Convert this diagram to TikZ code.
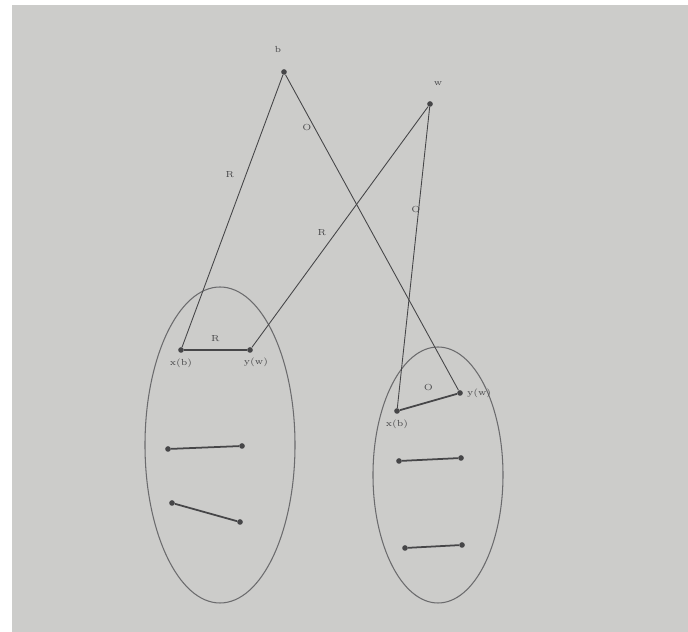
\documentclass[tikz,border=0pt]{standalone}
\usepackage{tikz}
\usetikzlibrary{positioning, calc, backgrounds}
\definecolor{paper}{RGB}{204,204,202}
\definecolor{ink}{RGB}{70,70,72}

\begin{document}
\begin{tikzpicture}[
  pt/.style={circle, fill=ink, inner sep=0pt, minimum size=3.2pt},
  lbl/.style={font=\tiny, color=ink, inner sep=1pt},
  edge/.style={draw=ink, line width=0.5pt},
  pair/.style={draw=ink, line width=1pt},
  group/.style={draw=ink!80, line width=0.6pt},
]
  \fill[white] (0,0) rectangle (13.76,12.64);
  \fill[paper] (0.24,0) rectangle (13.76,12.54);
  \useasboundingbox (0,0) rectangle (13.76,12.64);

  % the two groups
  \draw[group] (4.40,3.74) ellipse (1.50cm and 3.16cm);
  \draw[group] (8.76,3.14) ellipse (1.30cm and 2.56cm);

  % top vertices
  \node[pt] (b) at (5.68,11.20) {};
  \node[lbl] (bl) at (5.56,11.64) {b};
  \node[pt] (w) at (8.60,10.56) {};
  \node[lbl] (wl) at (8.76,10.96) {w};

  % left group
  \node[pt] (xb) at (3.62,5.64) {};
  \node[pt] (yw) at (5.00,5.64) {};
  \node[lbl, below=2pt of xb] {x(b)};
  \node[lbl, below right=2pt and -6pt of yw] {y(w)};
  \node[pt] (la) at (3.36,3.66) {};
  \node[pt] (lb) at (4.84,3.72) {};
  \node[pt] (lc) at (3.44,2.58) {};
  \node[pt] (ld) at (4.80,2.20) {};

  % right group
  \node[pt] (xbr) at (7.94,4.42) {};
  \node[pt] (ywr) at (9.20,4.78) {};
  \node[lbl, below=2pt of xbr] {x(b)};
  \node[lbl, right=1pt of ywr] {y(w)};
  \node[pt] (ra) at (7.98,3.42) {};
  \node[pt] (rb) at (9.22,3.48) {};
  \node[pt] (rc) at (8.10,1.68) {};
  \node[pt] (rd) at (9.24,1.74) {};

  % pairs
  \draw[pair] (xb) -- node[lbl, above=3pt] {R} (yw);
  \draw[pair] (la) -- (lb);
  \draw[pair] (lc) -- (ld);
  \draw[pair] (xbr) -- node[lbl, above=5pt] {O} (ywr);
  \draw[pair] (ra) -- (rb);
  \draw[pair] (rc) -- (rd);

  % links from the top
  \draw[edge] (b) -- (xb);
  \node[lbl] at (4.60,9.14) {R};
  \draw[edge] (b) -- (ywr);
  \node[lbl] at (6.14,10.08) {O};
  \draw[edge] (w) -- (yw);
  \node[lbl] at (6.44,7.98) {R};
  \draw[edge] (w) -- (xbr);
  \node[lbl] at (8.32,8.44) {O};
\end{tikzpicture}
\end{document}
